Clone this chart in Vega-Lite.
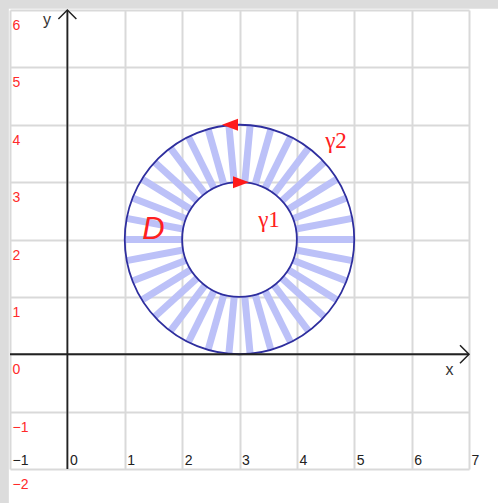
{
  "$schema": "https://vega.github.io/schema/vega-lite/v6.json",
  "width": 459,
  "height": 459,
  "autosize": {"type": "none"},
  "padding": {"left": 10, "top": 10, "right": 29, "bottom": 34},
  "background": "white",
  "config": {"view": {"stroke": null}},
  "resolve": {"scale": {"shape": "independent", "size": "independent"}},
  "datasets": {
    "spokes": [
      {"x": 4, "y": 2, "x2": 5, "y2": 2},
      {"x": 3.983, "y": 2.184, "x2": 4.966, "y2": 2.368},
      {"x": 3.932, "y": 2.361, "x2": 4.865, "y2": 2.722},
      {"x": 3.85, "y": 2.526, "x2": 4.7, "y2": 3.053},
      {"x": 3.739, "y": 2.674, "x2": 4.478, "y2": 3.347},
      {"x": 3.603, "y": 2.798, "x2": 4.205, "y2": 3.596},
      {"x": 3.446, "y": 2.895, "x2": 3.891, "y2": 3.79},
      {"x": 3.274, "y": 2.962, "x2": 3.547, "y2": 3.924},
      {"x": 3.092, "y": 2.996, "x2": 3.185, "y2": 3.991},
      {"x": 2.908, "y": 2.996, "x2": 2.815, "y2": 3.991},
      {"x": 2.726, "y": 2.962, "x2": 2.453, "y2": 3.924},
      {"x": 2.554, "y": 2.895, "x2": 2.109, "y2": 3.79},
      {"x": 2.397, "y": 2.798, "x2": 1.795, "y2": 3.596},
      {"x": 2.261, "y": 2.674, "x2": 1.522, "y2": 3.347},
      {"x": 2.15, "y": 2.526, "x2": 1.3, "y2": 3.053},
      {"x": 2.068, "y": 2.361, "x2": 1.135, "y2": 2.722},
      {"x": 2.017, "y": 2.184, "x2": 1.034, "y2": 2.368},
      {"x": 2, "y": 2, "x2": 1, "y2": 2},
      {"x": 2.017, "y": 1.816, "x2": 1.034, "y2": 1.632},
      {"x": 2.068, "y": 1.639, "x2": 1.135, "y2": 1.278},
      {"x": 2.15, "y": 1.474, "x2": 1.3, "y2": 0.947},
      {"x": 2.261, "y": 1.326, "x2": 1.522, "y2": 0.653},
      {"x": 2.397, "y": 1.202, "x2": 1.795, "y2": 0.404},
      {"x": 2.554, "y": 1.105, "x2": 2.109, "y2": 0.21},
      {"x": 2.726, "y": 1.038, "x2": 2.453, "y2": 0.076},
      {"x": 2.908, "y": 1.004, "x2": 2.815, "y2": 0.009},
      {"x": 3.092, "y": 1.004, "x2": 3.185, "y2": 0.009},
      {"x": 3.274, "y": 1.038, "x2": 3.547, "y2": 0.076},
      {"x": 3.446, "y": 1.105, "x2": 3.891, "y2": 0.21},
      {"x": 3.603, "y": 1.202, "x2": 4.205, "y2": 0.404},
      {"x": 3.739, "y": 1.326, "x2": 4.478, "y2": 0.653},
      {"x": 3.85, "y": 1.474, "x2": 4.7, "y2": 0.947},
      {"x": 3.932, "y": 1.639, "x2": 4.865, "y2": 1.278},
      {"x": 3.983, "y": 1.816, "x2": 4.966, "y2": 1.632}
    ]
  },
  "layer": [
    {
      "data": {"values": [
        {"x": -1.2, "x2": -1.02, "y": -2.8, "y2": 6.3},
        {"x": -1.2, "x2": 7.7, "y": 6.02, "y2": 6.3}
      ]},
      "mark": {"type": "rect", "color": "#dcdcdc", "clip": false},
      "encoding": {
        "x": {"field": "x", "type": "quantitative", "title": null},
        "x2": {"field": "x2"},
        "y": {"field": "y", "type": "quantitative", "title": null},
        "y2": {"field": "y2"}
      }
    },
    {
      "data": {"name": "spokes"},
      "mark": {"type": "rule", "color": "#bcc1f8", "strokeWidth": 7, "strokeCap": "butt"},
      "encoding": {
        "x": {
          "field": "x", "type": "quantitative", "title": null,
          "scale": {"domain": [-1, 7], "nice": false, "zero": false},
          "axis": {
            "orient": "bottom", "values": [-1, 0, 1, 2, 3, 4, 5, 6, 7], "format": "d",
            "grid": true, "gridColor": "#d9d9d9", "gridWidth": 2,
            "domain": false, "ticks": false,
            "labelAlign": "left", "labelBaseline": "alphabetic",
            "labelPadding": -4.5, "labelOffset": 2,
            "labelFlush": false, "labelOverlap": false, "labelBound": false,
            "labelColor": "#222222", "labelFont": "Liberation Sans", "labelFontSize": 14,
            "title": null
          }
        },
        "x2": {"field": "x2"},
        "y": {
          "field": "y", "type": "quantitative", "title": null,
          "scale": {"domain": [-2, 6], "nice": false, "zero": false},
          "axis": {
            "orient": "left", "values": [-2, -1, 0, 1, 2, 3, 4, 5, 6], "format": "d",
            "grid": true, "gridColor": "#d9d9d9", "gridWidth": 2,
            "domain": false, "ticks": false,
            "labelAlign": "left", "labelBaseline": "alphabetic",
            "labelPadding": -2, "labelOffset": 19.5,
            "labelFlush": false, "labelOverlap": false, "labelBound": false,
            "labelColor": "#ff2a2a", "labelFont": "Liberation Sans", "labelFontSize": 14,
            "title": null
          }
        },
        "y2": {"field": "y2"}
      }
    },
    {
      "data": {"values": [
        {"x": 3, "y": 2, "radius": 1},
        {"x": 3, "y": 2, "radius": 2}
      ]},
      "mark": {"type": "point", "shape": "circle", "filled": false, "color": "#2e2e9e", "strokeWidth": 1.8, "opacity": 1},
      "encoding": {
        "x": {"field": "x", "type": "quantitative", "title": null},
        "y": {"field": "y", "type": "quantitative", "title": null},
        "size": {"field": "radius", "type": "quantitative", "legend": null,
          "scale": {"type": "pow", "exponent": 2, "domain": [1, 2], "range": [13168, 52670], "zero": false}}
      }
    },
    {
      "data": {"values": [
        {"x": 0, "y": -2, "x2": 0, "y2": 6},
        {"x": -1, "y": 0, "x2": 7, "y2": 0}
      ]},
      "mark": {"type": "rule", "color": "#222222", "strokeWidth": 1.8},
      "encoding": {
        "x": {"field": "x", "type": "quantitative", "title": null},
        "x2": {"field": "x2"},
        "y": {"field": "y", "type": "quantitative", "title": null},
        "y2": {"field": "y2"}
      }
    },
    {
      "data": {"values": [
        {"x": 0, "y": 6, "dir": "up"},
        {"x": 7, "y": 0, "dir": "right"}
      ]},
      "mark": {"type": "point", "filled": false, "color": "#222222", "strokeWidth": 1.5, "size": 324, "opacity": 1},
      "encoding": {
        "x": {"field": "x", "type": "quantitative", "title": null},
        "y": {"field": "y", "type": "quantitative", "title": null},
        "shape": {"field": "dir", "type": "nominal", "legend": null,
          "scale": {"domain": ["up", "right"], "range": ["M-1,1L0,0L1,1", "M-1,-1L0,0L-1,1"]}}
      }
    },
    {
      "data": {"values": [
        {"x": 2.834, "y": 4, "arrow": "leftward"},
        {"x": 3.026, "y": 3.0, "arrow": "rightward"}
      ]},
      "mark": {"type": "point", "filled": true, "color": "#ff1a1a", "size": 256, "opacity": 1},
      "encoding": {
        "x": {"field": "x", "type": "quantitative", "title": null},
        "y": {"field": "y", "type": "quantitative", "title": null},
        "shape": {"field": "arrow", "type": "nominal", "legend": null,
          "scale": {"domain": ["leftward", "rightward"], "range": ["M1,-0.75L-1,0L1,0.75Z", "M-1,-0.75L1,0L-1,0.75Z"]}}
      }
    },
    {
      "data": {"values": [
        {"x": 1.5, "y": 2.01, "label": "D"}
      ]},
      "mark": {"type": "text", "color": "#ff2020", "font": "Liberation Sans", "fontSize": 31, "fontStyle": "italic", "align": "center", "baseline": "alphabetic"},
      "encoding": {
        "x": {"field": "x", "type": "quantitative", "title": null},
        "y": {"field": "y", "type": "quantitative", "title": null},
        "text": {"field": "label"}
      }
    },
    {
      "data": {"values": [
        {"x": 3.514, "y": 2.224, "label": "γ1"},
        {"x": 4.682, "y": 3.595, "label": "γ2"}
      ]},
      "mark": {"type": "text", "color": "#ff2020", "font": "Liberation Serif", "fontSize": 23, "align": "center", "baseline": "alphabetic"},
      "encoding": {
        "x": {"field": "x", "type": "quantitative", "title": null},
        "y": {"field": "y", "type": "quantitative", "title": null},
        "text": {"field": "label"}
      }
    },
    {
      "data": {"values": [
        {"x": -0.355, "y": 5.747, "label": "y"},
        {"x": 6.66, "y": -0.362, "label": "x"}
      ]},
      "mark": {"type": "text", "color": "#333333", "font": "Liberation Sans", "fontSize": 16, "align": "center", "baseline": "alphabetic"},
      "encoding": {
        "x": {"field": "x", "type": "quantitative", "title": null},
        "y": {"field": "y", "type": "quantitative", "title": null},
        "text": {"field": "label"}
      }
    }
  ]
}
